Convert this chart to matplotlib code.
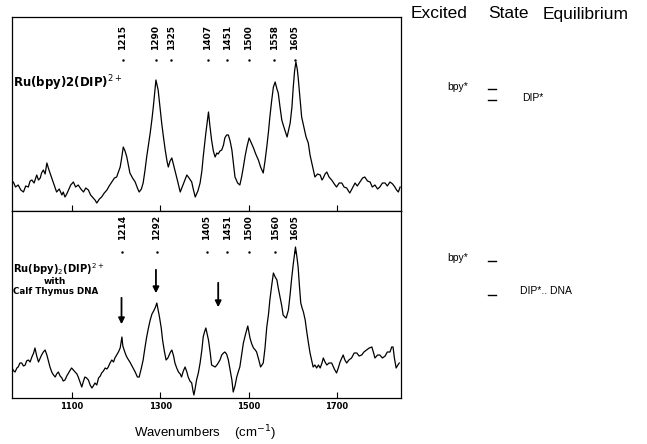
import matplotlib
matplotlib.use('Agg')
import matplotlib.pyplot as plt

# top spectrum: Ru(bpy)2(DIP)2+ alone (intensity in arbitrary units)
wn_free = [967, 972, 978, 984, 990, 995, 1001, 1005, 1009, 1014, 1020, 1024, 1028, 1031, 1035, 1039,
           1043, 1047, 1050, 1054, 1058, 1062, 1065, 1071, 1077, 1080, 1084, 1088, 1092, 1097, 1103,
           1108, 1114, 1120, 1126, 1131, 1137, 1142, 1148, 1152, 1156, 1162, 1167, 1173, 1179, 1184,
           1190, 1196, 1201, 1205, 1209, 1212, 1216, 1220, 1224, 1231, 1237, 1243, 1248, 1252, 1257,
           1261, 1265, 1269, 1273, 1277, 1281, 1284, 1287, 1290, 1295, 1299, 1303, 1307, 1311, 1315,
           1318, 1322, 1326, 1330, 1333, 1339, 1345, 1352, 1360, 1365, 1371, 1375, 1379, 1385, 1390,
           1394, 1397, 1403, 1409, 1412, 1416, 1420, 1424, 1428, 1431, 1435, 1439, 1443, 1446, 1450,
           1454, 1458, 1462, 1466, 1469, 1475, 1480, 1484, 1488, 1492, 1496, 1501, 1506, 1511, 1516,
           1522, 1527, 1533, 1537, 1541, 1545, 1548, 1552, 1556, 1560, 1564, 1567, 1571, 1575, 1579,
           1582, 1587, 1590, 1594, 1598, 1601, 1604, 1607, 1610, 1612, 1616, 1620, 1625, 1630, 1635,
           1639, 1643, 1647, 1650, 1656, 1662, 1666, 1669, 1673, 1677, 1682, 1688, 1694, 1699, 1705,
           1711, 1716, 1722, 1726, 1729, 1735, 1741, 1746, 1752, 1758, 1763, 1769, 1775, 1780, 1786,
           1792, 1797, 1803, 1809, 1814, 1820, 1826, 1831, 1835, 1839, 1843]
int_free = [29, 24, 26, 21, 19, 25, 24, 30, 31, 28, 36, 31, 33, 38, 41, 37,
            48, 42, 38, 33, 28, 23, 19, 22, 16, 19, 14, 17, 21, 26, 29,
            24, 26, 22, 19, 23, 21, 16, 13, 11, 8, 12, 14, 18, 21, 25,
            29, 33, 34, 39, 44, 52, 64, 60, 54, 38, 33, 29, 23, 19, 22,
            28, 40, 54, 66, 78, 92, 104, 118, 131, 121, 104, 88, 74, 61, 50,
            44, 50, 53, 46, 41, 30, 19, 27, 36, 33, 29, 21, 14, 20, 28,
            40, 54, 78, 99, 86, 71, 60, 54, 58, 57, 60, 61, 66, 73, 76,
            76, 70, 61, 46, 34, 28, 26, 34, 44, 55, 64, 73, 68, 63, 57,
            51, 44, 38, 50, 64, 80, 94, 110, 124, 129, 122, 118, 104, 91, 85,
            81, 74, 80, 88, 104, 124, 140, 149, 142, 134, 114, 94, 84, 74, 68,
            56, 48, 40, 34, 37, 36, 31, 33, 37, 39, 34, 31, 27, 24, 28,
            28, 24, 23, 20, 18, 23, 28, 25, 29, 33, 34, 30, 29, 24, 26,
            22, 24, 28, 28, 25, 29, 27, 24, 21, 19, 24]
peaks_free = [1215, 1290, 1325, 1407, 1451, 1500, 1558, 1605]

# bottom spectrum: with calf thymus DNA
wn_dna = [964, 968, 971, 975, 978, 982, 986, 990, 994, 997, 1001, 1005, 1009, 1013, 1016, 1020,
          1024, 1028, 1031, 1035, 1039, 1043, 1046, 1050, 1054, 1058, 1062, 1065, 1069, 1073, 1077,
          1080, 1084, 1088, 1092, 1096, 1099, 1103, 1107, 1111, 1114, 1118, 1122, 1126, 1129, 1133,
          1137, 1141, 1145, 1148, 1152, 1156, 1160, 1164, 1167, 1171, 1175, 1179, 1182, 1186, 1190,
          1194, 1197, 1201, 1205, 1209, 1213, 1215, 1218, 1221, 1224, 1228, 1231, 1237, 1243, 1248,
          1252, 1257, 1261, 1265, 1269, 1273, 1277, 1281, 1286, 1289, 1292, 1295, 1298, 1302, 1305,
          1309, 1313, 1317, 1320, 1323, 1326, 1330, 1333, 1337, 1341, 1345, 1348, 1352, 1356, 1360,
          1363, 1367, 1371, 1374, 1376, 1379, 1382, 1386, 1390, 1394, 1397, 1400, 1403, 1406, 1409,
          1413, 1416, 1420, 1424, 1428, 1431, 1435, 1439, 1443, 1446, 1450, 1454, 1458, 1462, 1465,
          1469, 1473, 1477, 1480, 1484, 1488, 1493, 1498, 1503, 1507, 1511, 1515, 1518, 1523, 1527,
          1530, 1533, 1537, 1541, 1545, 1548, 1552, 1556, 1560, 1564, 1567, 1571, 1575, 1578, 1582,
          1585, 1590, 1594, 1597, 1601, 1606, 1609, 1612, 1615, 1618, 1621, 1624, 1628, 1631, 1635,
          1639, 1643, 1646, 1650, 1654, 1658, 1662, 1666, 1669, 1673, 1677, 1682, 1688, 1694, 1699,
          1703, 1707, 1711, 1714, 1718, 1722, 1727, 1733, 1739, 1745, 1750, 1756, 1761, 1767, 1773,
          1779, 1783, 1786, 1792, 1797, 1803, 1809, 1814, 1820, 1824, 1827, 1830, 1834, 1838, 1841]
int_dna = [30, 27, 26, 30, 31, 35, 35, 32, 33, 37, 38, 36, 41, 45, 50, 42,
           36, 40, 43, 46, 48, 43, 38, 31, 26, 23, 21, 24, 26, 22, 20,
           17, 18, 22, 25, 28, 30, 28, 26, 24, 21, 16, 11, 17, 21, 20,
           18, 13, 10, 12, 15, 13, 20, 22, 25, 27, 30, 29, 31, 35, 38,
           36, 40, 43, 46, 50, 61, 52, 48, 44, 41, 38, 36, 31, 26, 21,
           21, 30, 38, 50, 61, 70, 78, 84, 88, 91, 95, 88, 81, 70, 58,
           47, 38, 40, 43, 46, 48, 42, 35, 30, 26, 24, 21, 27, 31, 26,
           21, 17, 15, 7, 3, 10, 18, 25, 35, 48, 61, 66, 70, 64, 58,
           45, 33, 32, 31, 33, 35, 38, 43, 45, 46, 44, 38, 28, 18, 6,
           12, 21, 27, 31, 43, 55, 64, 72, 60, 54, 50, 48, 46, 38, 31,
           33, 35, 50, 71, 84, 98, 112, 125, 121, 118, 110, 101, 92, 83, 81,
           80, 88, 104, 118, 134, 151, 142, 131, 112, 95, 90, 86, 78, 68, 56,
           45, 37, 31, 33, 30, 33, 30, 35, 40, 36, 33, 35, 35, 29, 25,
           30, 36, 40, 43, 38, 35, 38, 40, 45, 45, 42, 43, 46, 48, 50,
           51, 45, 40, 43, 43, 40, 42, 46, 46, 51, 51, 40, 30, 33, 35]
peaks_dna = [1214, 1292, 1405, 1451, 1500, 1560, 1605]
arrow_wn = [1212, 1290, 1431]
arrow_from = [103, 131, 118]
arrow_to = [71, 102, 88]

xticks = [1100, 1300, 1500, 1700]

W, H = 647, 444
fig = plt.figure(figsize=(W / 100, H / 100), dpi=100)
plt.rcParams['font.family'] = ['DejaVu Sans']

ax1 = fig.add_axes([12 / W, 1 - 211 / H, 389 / W, 194 / H])
ax2 = fig.add_axes([12 / W, 1 - 398 / H, 389 / W, 187 / H])

for ax in (ax1, ax2):
    ax.set_xlim(964, 1845)
    ax.set_xticks(xticks)
    ax.tick_params(axis='x', direction='in', length=4, width=0.8, labelsize=6, pad=3)
    ax.set_yticks([])
    for s in ax.spines.values():
        s.set_linewidth(0.9)

ax1.set_ylim(0, 194)
ax2.set_ylim(0, 187)
ax1.tick_params(labelbottom=False)
for lab in ax2.get_xticklabels():
    lab.set_fontweight('bold')

ax1.plot(wn_free, int_free, color='black', lw=0.9)
ax2.plot(wn_dna, int_dna, color='black', lw=0.9)

# peak positions
for p in peaks_free:
    ax1.text(p, 161, str(p), rotation=90, ha='center', va='bottom', fontsize=6.5, fontweight='bold')
    ax1.plot(p, 151, marker='.', ms=1.5, color='black')
for p in peaks_dna:
    ax2.text(p, 158, str(p), rotation=90, ha='center', va='bottom', fontsize=6.5, fontweight='bold')
    ax2.plot(p, 146, marker='.', ms=1.5, color='black')

ax1.text(967, 128, 'Ru(bpy)2(DIP)$^{2+}$', fontsize=8.5, fontweight='bold', va='center')
ax2.text(967, 125, 'Ru(bpy)$_2$(DIP)$^{2+}$', fontsize=7.2, fontweight='bold', va='baseline')
ax2.text(1060, 114, 'with', fontsize=6.5, fontweight='bold', va='baseline', ha='center')
ax2.text(967, 104, 'Calf Thymus DNA', fontsize=6.3, fontweight='bold', va='baseline')

for x, y0, y1 in zip(arrow_wn, arrow_from, arrow_to):
    ax2.annotate('', xy=(x, y1), xytext=(x, y0),
                 arrowprops=dict(arrowstyle='-|>', color='black', lw=1.3, mutation_scale=9))

fig.text(205 / W, 1 - 433 / H, 'Wavenumbers    (cm$^{-1}$)', fontsize=9.5,
         family='Liberation Sans', ha='center', va='center')

# excited state scheme on the right
for word, xw in (('Excited', 411), ('State', 488), ('Equilibrium', 543)):
    fig.text(xw / W, 1 - 14 / H, word, fontsize=12.5, family='Liberation Sans', va='center')
fig.text(447 / W, 1 - 87 / H, 'bpy*', fontsize=7.5, family='Liberation Sans', va='center')
fig.text(522 / W, 1 - 98 / H, 'DIP*', fontsize=7.5, family='Liberation Sans', va='center')
fig.text(447 / W, 1 - 258 / H, 'bpy*', fontsize=7.5, family='Liberation Sans', va='center')
fig.text(520 / W, 1 - 291 / H, 'DIP*.. DNA', fontsize=7.5, family='Liberation Sans', va='center')
for yy in (89, 100, 261, 295):
    fig.add_artist(plt.Line2D([488 / W, 496 / W], [1 - yy / H, 1 - yy / H], color='black', lw=1))

fig.savefig('out.png', dpi=100)
